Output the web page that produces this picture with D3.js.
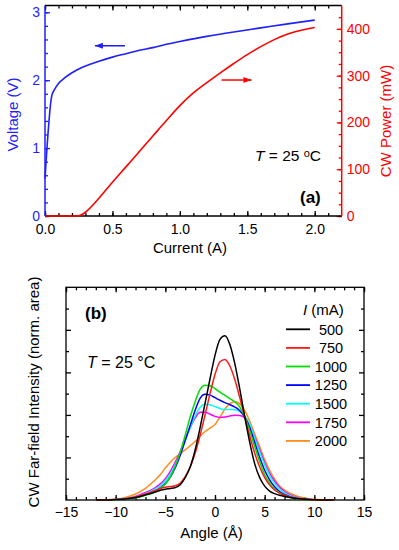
<!DOCTYPE html>
<html><head><meta charset="utf-8">
<script src="https://cdn.jsdelivr.net/npm/d3@7"></script>
<style>
body{margin:0;background:#fff}
text{font-family:"Liberation Sans",Arial,sans-serif}
</style>
</head><body>
<svg id="c" width="399" height="550"></svg>
<script>
// ---------- Panel (a) data ----------
const currentV = [0, 0.05, 0.07, 0.1, 0.15, 0.2, 0.3, 0.4, 0.5, 0.6, 0.7, 0.8, 0.9, 1.0, 1.2, 1.4, 1.6, 1.8, 2.0];
const voltage  = [0.55, 1.77, 1.86, 1.95, 2.04, 2.11, 2.21, 2.28, 2.34, 2.39, 2.44, 2.48, 2.53, 2.57, 2.645, 2.71, 2.77, 2.83, 2.885];
const currentP = [0, 0.2, 0.25, 0.3, 0.35, 0.4, 0.5, 0.6, 0.7, 0.8, 0.9, 1.0, 1.1, 1.2, 1.3, 1.4, 1.5, 1.6, 1.7, 1.8, 1.9, 2.0];
const power    = [0, 0, 0.5, 8, 22, 38, 72, 105, 138, 171, 204, 236, 263, 285, 306, 326, 345, 362, 377, 389, 397, 403];
const xTicksA = [0, 0.5, 1.0, 1.5, 2.0];
const vTicks = [0, 1, 2, 3];
const pTicks = [0, 100, 200, 300, 400];

// ---------- Panel (b) data ----------
const angles = [-12,-11,-10,-9,-8,-7,-6,-5.5,-5,-4.5,-4,-3.5,-3,-2.5,-2,-1.5,-1,-0.5,0,0.5,1,1.5,2,2.5,3,3.5,4,4.5,5,5.5,6,6.5,7,8,9,10,11,12];
const i500  = [0,0,0.002,0.005,0.012,0.024,0.038,0.046,0.051,0.054,0.058,0.072,0.105,0.155,0.235,0.34,0.455,0.57,0.68,0.755,0.772,0.73,0.64,0.52,0.39,0.27,0.17,0.105,0.065,0.042,0.03,0.022,0.016,0.008,0.003,0.001,0,0];
const i750  = [0,0,0.002,0.006,0.014,0.028,0.045,0.054,0.06,0.063,0.067,0.08,0.11,0.155,0.22,0.305,0.4,0.5,0.59,0.65,0.661,0.63,0.565,0.48,0.39,0.3,0.22,0.155,0.105,0.07,0.047,0.032,0.022,0.009,0.003,0.001,0,0];
const i1000 = [0,0,0.001,0.004,0.01,0.022,0.04,0.055,0.075,0.11,0.16,0.225,0.305,0.39,0.462,0.52,0.54,0.537,0.524,0.507,0.492,0.477,0.462,0.437,0.39,0.325,0.25,0.18,0.12,0.08,0.05,0.033,0.021,0.007,0.002,0.0005,0,0];
const i1250 = [0,0,0.001,0.004,0.011,0.024,0.043,0.057,0.078,0.108,0.152,0.21,0.28,0.35,0.422,0.478,0.497,0.493,0.481,0.469,0.458,0.448,0.437,0.42,0.39,0.34,0.27,0.2,0.14,0.095,0.062,0.04,0.026,0.009,0.003,0.001,0,0];
const i1500 = [0,0.0005,0.002,0.006,0.014,0.03,0.052,0.067,0.09,0.122,0.165,0.22,0.28,0.34,0.395,0.436,0.45,0.448,0.439,0.43,0.425,0.425,0.424,0.415,0.395,0.355,0.29,0.225,0.165,0.115,0.078,0.052,0.034,0.013,0.004,0.001,0,0];
const i1750 = [0,0.0005,0.002,0.007,0.017,0.035,0.058,0.076,0.1,0.135,0.178,0.228,0.285,0.34,0.385,0.412,0.413,0.403,0.393,0.388,0.39,0.395,0.398,0.397,0.385,0.35,0.295,0.235,0.175,0.125,0.088,0.06,0.04,0.016,0.005,0.0015,0,0];
const i2000 = [0,0.001,0.004,0.012,0.028,0.055,0.095,0.12,0.15,0.178,0.2,0.218,0.236,0.255,0.275,0.3,0.322,0.338,0.355,0.39,0.428,0.453,0.462,0.452,0.42,0.37,0.31,0.25,0.19,0.14,0.098,0.066,0.046,0.022,0.009,0.003,0.001,0];
const seriesLabels = ["500","750","1000","1250","1500","1750","2000"];
const seriesColors = ["#000000","#ff1a1a","#00e000","#0000ff","#00ffff","#ff00ff","#ff8c1a"];
const seriesValues = [i500,i750,i1000,i1250,i1500,i1750,i2000];
const xTicksB = [-15,-10,-5,0,5,10,15];

const BLUE = "#1f1fff", RED = "#ff0000";
const svg = d3.select("#c");

// ================= Panel (a) =================
const A = {l:45, r:341.7, t:5.5, b:216};
const xA = d3.scaleLinear().domain([0, 2.2]).range([A.l, A.r]);
const yV = d3.scaleLinear().domain([0, 3.1]).range([A.b, A.t]);
const yP = d3.scaleLinear().domain([0, 450]).range([A.b, A.t]);

function styleAxis(g, color){
  g.selectAll("path,line").attr("stroke", color).attr("stroke-width", 1.3);
  g.selectAll("text").attr("fill", color).style("font-size","14px").attr("font-family","Liberation Sans, Arial, sans-serif");
}
const ga = svg.append("g");
// minor ticks
ga.append("g").attr("transform",`translate(0,${A.b})`)
  .call(d3.axisBottom(xA).tickValues(d3.range(0,22).map(i=>i/10)).tickSize(-3).tickFormat(""))
  .call(g=>{g.select(".domain").remove(); styleAxis(g,"#000");});
ga.append("g").attr("transform",`translate(0,${A.t})`)
  .call(d3.axisTop(xA).tickValues(d3.range(0,22).map(i=>i/10)).tickSize(-3).tickFormat(""))
  .call(g=>{g.select(".domain").remove(); styleAxis(g,"#000");});
ga.append("g").attr("transform",`translate(${A.l},0)`)
  .call(d3.axisLeft(yV).tickValues(d3.range(0,16).map(i=>i/5)).tickSize(-3).tickFormat(""))
  .call(g=>{g.select(".domain").remove(); styleAxis(g,BLUE);});
ga.append("g").attr("transform",`translate(${A.r},0)`)
  .call(d3.axisRight(yP).tickValues(d3.range(0,450,25)).tickSize(-3).tickFormat(""))
  .call(g=>{g.select(".domain").remove(); styleAxis(g,RED);});
// major ticks
ga.append("g").attr("transform",`translate(0,${A.b})`)
  .call(d3.axisBottom(xA).tickValues(xTicksA).tickSize(-5).tickPadding(8).tickFormat(d3.format(".1f")))
  .call(g=>{g.select(".domain").remove(); styleAxis(g,"#000");});
ga.append("g").attr("transform",`translate(0,${A.t})`)
  .call(d3.axisTop(xA).tickValues(xTicksA).tickSize(-5).tickFormat(""))
  .call(g=>{g.select(".domain").remove(); styleAxis(g,"#000");});
ga.append("g").attr("transform",`translate(${A.l},0)`)
  .call(d3.axisLeft(yV).tickValues(vTicks).tickSize(-5).tickPadding(5).tickFormat(d3.format("d")))
  .call(g=>{g.select(".domain").remove(); styleAxis(g,BLUE);});
ga.append("g").attr("transform",`translate(${A.r},0)`)
  .call(d3.axisRight(yP).tickValues(pTicks).tickSize(-5).tickPadding(5).tickFormat(d3.format("d")))
  .call(g=>{g.select(".domain").remove(); styleAxis(g,RED);});
// frame
ga.append("line").attr("x1",A.l).attr("x2",A.r).attr("y1",A.t).attr("y2",A.t).attr("stroke","#000").attr("stroke-width",1.3);
ga.append("line").attr("x1",A.l).attr("x2",A.r).attr("y1",A.b).attr("y2",A.b).attr("stroke","#000").attr("stroke-width",1.3);
ga.append("line").attr("x1",A.l).attr("x2",A.l).attr("y1",A.t).attr("y2",A.b).attr("stroke",BLUE).attr("stroke-width",1.5);
ga.append("line").attr("x1",A.r).attr("x2",A.r).attr("y1",A.t).attr("y2",A.b).attr("stroke",RED).attr("stroke-width",1.5);

// curves
const lineV = d3.line().x((d,i)=>xA(currentV[i])).y(d=>yV(d)).curve(d3.curveMonotoneX);
const lineP = d3.line().x((d,i)=>xA(currentP[i])).y(d=>yP(d)).curve(d3.curveMonotoneX);
ga.append("path").attr("d", lineV(voltage)).attr("fill","none").attr("stroke",BLUE).attr("stroke-width",1.6);
ga.append("path").attr("d", lineP(power)).attr("fill","none").attr("stroke",RED).attr("stroke-width",1.6);

// arrows
function arrow(x1,y1,x2,y2,color){
  ga.append("line").attr("x1",x1).attr("y1",y1).attr("x2",x2).attr("y2",y2).attr("stroke",color).attr("stroke-width",1.5);
  const dir = Math.sign(x2-x1);
  ga.append("path").attr("d",`M${x2},${y2} L${x2-dir*8},${y2-3} L${x2-dir*8},${y2+3} Z`).attr("fill",color);
}
arrow(xA(0.593), yV(2.507), xA(0.37), yV(2.507), BLUE);
arrow(xA(1.309), yP(290.7), xA(1.531), yP(290.7), RED);

// texts
const tA = ga.append("text").attr("x",255).attr("y",161).style("font-size","15.5px");
tA.append("tspan").attr("font-style","italic").text("T");
tA.append("tspan").text(" = 25 ");
tA.append("tspan").attr("dy",-4).style("font-size","11px").text("o");
tA.append("tspan").attr("dy",4).text("C");
ga.append("text").attr("x",300).attr("y",203).style("font-size","17px").attr("font-weight","bold").text("(a)");
ga.append("text").attr("x",190).attr("y",253).attr("text-anchor","middle").style("font-size","15px").text("Current (A)");
ga.append("text").attr("transform","translate(17.5,114.5) rotate(-90)").attr("text-anchor","middle").style("font-size","15px").attr("fill",BLUE).text("Voltage (V)");
ga.append("text").attr("transform","translate(391,121) rotate(-90)").attr("text-anchor","middle").style("font-size","15px").attr("fill",RED).text("CW Power (mW)");

// ================= Panel (b) =================
const B = {l:66, r:364, t:287.3, b:500};
const xB = d3.scaleLinear().domain([-15, 15]).range([B.l, B.r]);
const yB = d3.scaleLinear().domain([0, 1]).range([B.b, B.t]);
const gb = svg.append("g");
const minorX = d3.range(-15,16,1), majorY = [0.2,0.4,0.6,0.8], minorY = [0.1,0.3,0.5,0.7,0.9];
gb.append("g").attr("transform",`translate(0,${B.b})`)
  .call(d3.axisBottom(xB).tickValues(minorX).tickSize(-3).tickFormat(""))
  .call(g=>{g.select(".domain").remove(); styleAxis(g,"#000");});
gb.append("g").attr("transform",`translate(0,${B.t})`)
  .call(d3.axisTop(xB).tickValues(minorX).tickSize(-3).tickFormat(""))
  .call(g=>{g.select(".domain").remove(); styleAxis(g,"#000");});
gb.append("g").attr("transform",`translate(0,${B.b})`)
  .call(d3.axisBottom(xB).tickValues(xTicksB).tickSize(-5).tickPadding(7).tickFormat(d3.format("d")))
  .call(g=>{g.select(".domain").remove(); styleAxis(g,"#000");});
gb.append("g").attr("transform",`translate(0,${B.t})`)
  .call(d3.axisTop(xB).tickValues(xTicksB).tickSize(-5).tickFormat(""))
  .call(g=>{g.select(".domain").remove(); styleAxis(g,"#000");});
[[B.l,d3.axisLeft],[B.r,d3.axisRight]].forEach(([xp,ax])=>{
  gb.append("g").attr("transform",`translate(${xp},0)`)
    .call(ax(yB).tickValues(minorY).tickSize(-3).tickFormat(""))
    .call(g=>{g.select(".domain").remove(); styleAxis(g,"#000");});
  gb.append("g").attr("transform",`translate(${xp},0)`)
    .call(ax(yB).tickValues(majorY).tickSize(-5).tickFormat(""))
    .call(g=>{g.select(".domain").remove(); styleAxis(g,"#000");});
});
gb.append("rect").attr("x",B.l).attr("y",B.t).attr("width",B.r-B.l).attr("height",B.b-B.t)
  .attr("fill","none").attr("stroke","#000").attr("stroke-width",1.3);

const lineB = d3.line().x((d,i)=>xB(angles[i])).y(d=>yB(d)).curve(d3.curveMonotoneX);
const order = [6,5,4,3,2,1,0];
order.forEach(k=>{
  gb.append("path").attr("d", lineB(seriesValues[k])).attr("fill","none")
    .attr("stroke",seriesColors[k]).attr("stroke-width",1.5);
});

// legend
const legTitle = gb.append("text").attr("x",303).attr("y",315).style("font-size","15px");
legTitle.append("tspan").attr("font-style","italic").text("I");
legTitle.append("tspan").text(" (mA)");
seriesLabels.forEach((lab,k)=>{
  const y = 329.3 + k*18.6;
  gb.append("line").attr("x1",286).attr("x2",310).attr("y1",y).attr("y2",y).attr("stroke",seriesColors[k]).attr("stroke-width",1.8);
  gb.append("text").attr("x",331).attr("y",y).attr("dy","0.36em").attr("text-anchor","middle").style("font-size","14.5px").text(lab);
});

gb.append("text").attr("x",85).attr("y",319).style("font-size","17px").attr("font-weight","bold").text("(b)");
const tB = gb.append("text").attr("x",87).attr("y",368).style("font-size","16px");
tB.append("tspan").attr("font-style","italic").text("T");
tB.append("tspan").text(" = 25 °C");
gb.append("text").attr("x",211.5).attr("y",538).attr("text-anchor","middle").style("font-size","15px").text("Angle (Å)");
gb.append("text").attr("transform","translate(39,392) rotate(-90)").attr("text-anchor","middle").style("font-size","15px").text("CW Far-field Intensity (norm. area)");
</script>
</body></html>
